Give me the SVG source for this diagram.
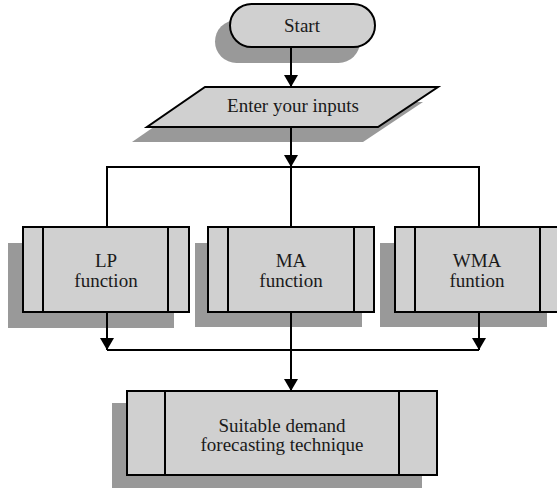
<svg xmlns="http://www.w3.org/2000/svg" width="557" height="488" viewBox="0 0 557 488">
<defs>
<style>
.shadow{fill:#999999;stroke:none}
.box{fill:#d0d0d0;stroke:#000;stroke-width:2}
.bar{stroke:#000;stroke-width:2;fill:none}
.lbl{font-family:"Liberation Serif","Times New Roman",serif;font-size:19px;fill:#1a1a1a;text-anchor:middle}
.conn{stroke:#000;stroke-width:2;fill:none}
</style>
<marker id="arr" markerUnits="userSpaceOnUse" markerWidth="14" markerHeight="14" refX="12" refY="7" orient="auto">
<path d="M0,0 L12,7 L0,14 z" fill="#000"/>
</marker>
</defs>
<rect width="557" height="488" fill="#fff"/>

<g id="start">
<rect class="shadow" x="215" y="20" width="145" height="43" rx="21.5"/>
<rect class="box" x="230" y="4" width="145" height="43" rx="21.5"/>
<text class="lbl" x="302" y="32">Start</text>
</g>

<g id="inputs">
<polygon class="shadow" points="190,102 423,102 363,142 132,142"/>
<polygon class="box" points="205,87 438,87 378,127 147,127"/>
<text class="lbl" x="293" y="112">Enter your inputs</text>
</g>

<g id="lp">
<rect class="shadow" x="8" y="243" width="166" height="85"/>
<rect class="box" x="23" y="227" width="166" height="85"/>
<line class="bar" x1="43" y1="227" x2="43" y2="312"/>
<line class="bar" x1="168" y1="227" x2="168" y2="312"/>
<text class="lbl" x="106" y="267">LP</text>
<text class="lbl" x="106" y="287">function</text>
</g>

<g id="ma">
<rect class="shadow" x="195" y="243" width="167" height="84"/>
<rect class="box" x="208" y="227" width="166" height="85"/>
<line class="bar" x1="228" y1="227" x2="228" y2="312"/>
<line class="bar" x1="354" y1="227" x2="354" y2="312"/>
<text class="lbl" x="291" y="267">MA</text>
<text class="lbl" x="291" y="287">function</text>
</g>

<g id="wma">
<rect class="shadow" x="380" y="243" width="167" height="84"/>
<rect class="box" x="395" y="227" width="166" height="85"/>
<line class="bar" x1="415" y1="227" x2="415" y2="312"/>
<line class="bar" x1="540" y1="227" x2="540" y2="312"/>
<text class="lbl" x="477" y="267">WMA</text>
<text class="lbl" x="477" y="287">funtion</text>
</g>

<g id="result">
<rect class="shadow" x="112" y="403" width="310" height="94"/>
<rect class="box" x="127" y="391" width="310" height="84"/>
<line class="bar" x1="165" y1="391" x2="165" y2="475"/>
<line class="bar" x1="399" y1="391" x2="399" y2="475"/>
<text class="lbl" x="282" y="432">Suitable demand</text>
<text class="lbl" x="282" y="451">forecasting technique</text>
</g>

<g id="connectors">
<line class="conn" x1="291" y1="47" x2="291" y2="87" marker-end="url(#arr)"/>
<line class="conn" x1="291" y1="127" x2="291" y2="167" marker-end="url(#arr)"/>
<polyline class="conn" points="107,227 107,167 479,167 479,227"/>
<line class="conn" x1="291" y1="167" x2="291" y2="227"/>
<line class="conn" x1="107" y1="312" x2="107" y2="350" marker-end="url(#arr)"/>
<line class="conn" x1="479" y1="312" x2="479" y2="350" marker-end="url(#arr)"/>
<line class="conn" x1="107" y1="350" x2="479" y2="350"/>
<line class="conn" x1="291" y1="312" x2="291" y2="391" marker-end="url(#arr)"/>
</g>
</svg>
